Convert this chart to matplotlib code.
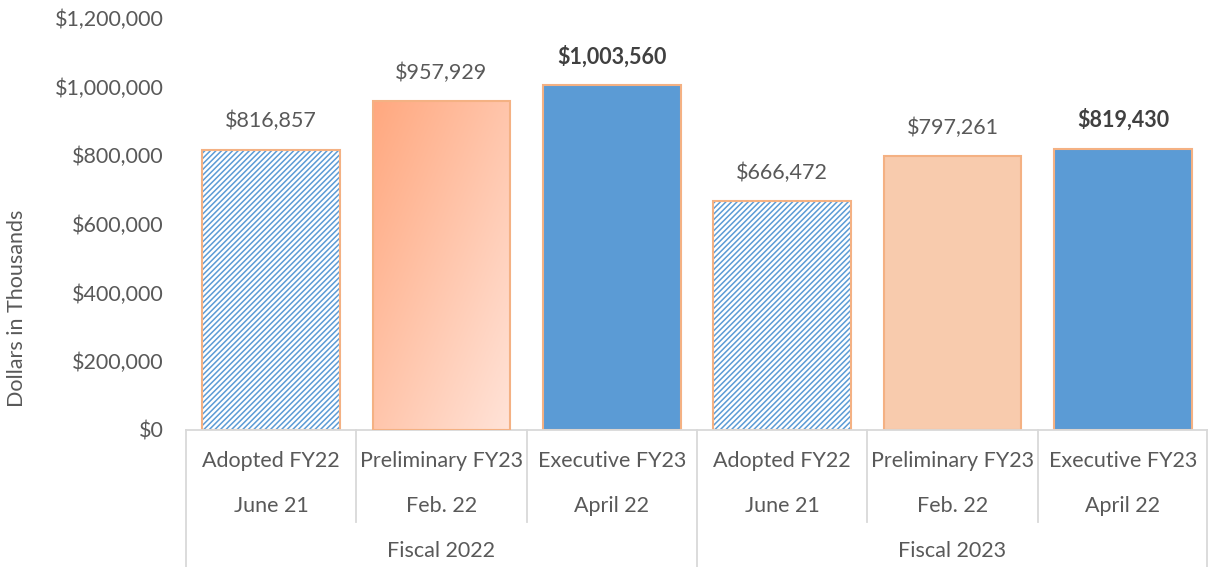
import numpy as np
import matplotlib.pyplot as plt
from matplotlib.colors import LinearSegmentedColormap
import matplotlib.transforms as mtransforms

plt.rcParams['font.family'] = ['Lato', 'DejaVu Sans']
plt.rcParams['hatch.linewidth'] = 1.1

# 数据
budget_names = ["Adopted FY22", "Preliminary FY23", "Executive FY23",
                "Adopted FY22", "Preliminary FY23", "Executive FY23"]
budget_dates = ["June 21", "Feb. 22", "April 22", "June 21", "Feb. 22", "April 22"]
fiscal_groups = ["Fiscal 2022", "Fiscal 2023"]
values = [816857, 957929, 1003560, 666472, 797261, 819430]
bold_label = [False, False, True, False, False, True]

BLUE = '#5B9BD5'
ORANGE = '#F4B183'
TXT = '#595959'
FS = 15.5

fig = plt.figure(figsize=(12.08, 5.67), dpi=100)
ax = fig.add_axes([186 / 1208, 1 - 430 / 567, 1 - 186 / 1208, 412 / 567])

x = np.arange(len(values))
w = 0.81

for i, v in enumerate(values):
    name = budget_names[i]
    if name.startswith("Adopted"):
        # 斜线填充
        ax.bar(x[i], v, w, facecolor='white', edgecolor=BLUE, hatch='/' * 6, linewidth=0)
        ax.bar(x[i], v, w, fill=False, edgecolor=ORANGE, linewidth=1.5)
    elif name.startswith("Preliminary") and i < 3:
        # 渐变填充
        b = ax.bar(x[i], v, w, facecolor='none', edgecolor=ORANGE, linewidth=1.5, zorder=3)[0]
        cmap = LinearSegmentedColormap.from_list('g', ['#FFA87F', '#FFE3D8'])
        gx, gy = np.meshgrid(np.linspace(0, 1, 100), np.linspace(0, 1, 100))
        grad = (gx + gy) / 2
        im = ax.imshow(grad, cmap=cmap, extent=[x[i] - w / 2, x[i] + w / 2, 0, v],
                       origin='upper', aspect='auto', zorder=2)
        im.set_clip_path(b)
    elif name.startswith("Preliminary"):
        ax.bar(x[i], v, w, facecolor='#F8CBAD', edgecolor=ORANGE, linewidth=1.5)
    else:
        ax.bar(x[i], v, w, facecolor=BLUE, edgecolor=ORANGE, linewidth=1.5)

    ax.annotate(f"${v:,.0f}", (x[i], v), xytext=(0, 13), textcoords='offset points',
                ha='center', va='bottom', fontsize=FS,
                fontweight='bold' if bold_label[i] else 'normal',
                color='#404040' if bold_label[i] else TXT)

ax.set_xlim(-0.5, len(values) - 0.5)
ax.set_ylim(0, 1200000)
ax.set_yticks(np.arange(0, 1200001, 200000))
ax.set_yticklabels([f"${t:,.0f}" for t in np.arange(0, 1200001, 200000)], fontsize=FS, color=TXT)
ax.tick_params(axis='y', length=0, pad=16)
ax.set_xticks([])
for s in ['top', 'right', 'left']:
    ax.spines[s].set_visible(False)
ax.spines['bottom'].set_color('#D9D9D9')
ax.spines['bottom'].set_linewidth(1.3)

fig.text(17 / 1208, 1 - 308 / 567, "Dollars in Thousands", rotation=90, ha='center', va='center',
         fontsize=FS, color=TXT)

# 多级分类轴
trans = mtransforms.blended_transform_factory(ax.transData, ax.transAxes)
px = 1 / 412
for i in range(len(values)):
    ax.text(x[i], -31 * px, budget_names[i], transform=trans, ha='center', va='center',
            fontsize=FS, color=TXT)
    ax.text(x[i], -76 * px, budget_dates[i], transform=trans, ha='center', va='center',
            fontsize=FS, color=TXT)
for j in range(1, len(values)):
    if j % 3 != 0:
        ax.plot([j - 0.5, j - 0.5], [0, -92 * px], transform=trans, color='#D9D9D9',
                lw=1.3, clip_on=False)
for j in [0, 3, 6]:
    xx = j - 0.5 if j < 6 else j - 0.5 - 0.004
    ax.plot([xx, xx], [0, -140 * px], transform=trans, color='#D9D9D9', lw=1.3, clip_on=False)
for g, name in enumerate(fiscal_groups):
    ax.text(g * 3 + 1, -121 * px, name, transform=trans, ha='center', va='center',
            fontsize=FS, color=TXT)

fig.savefig("out.png", dpi=100)
